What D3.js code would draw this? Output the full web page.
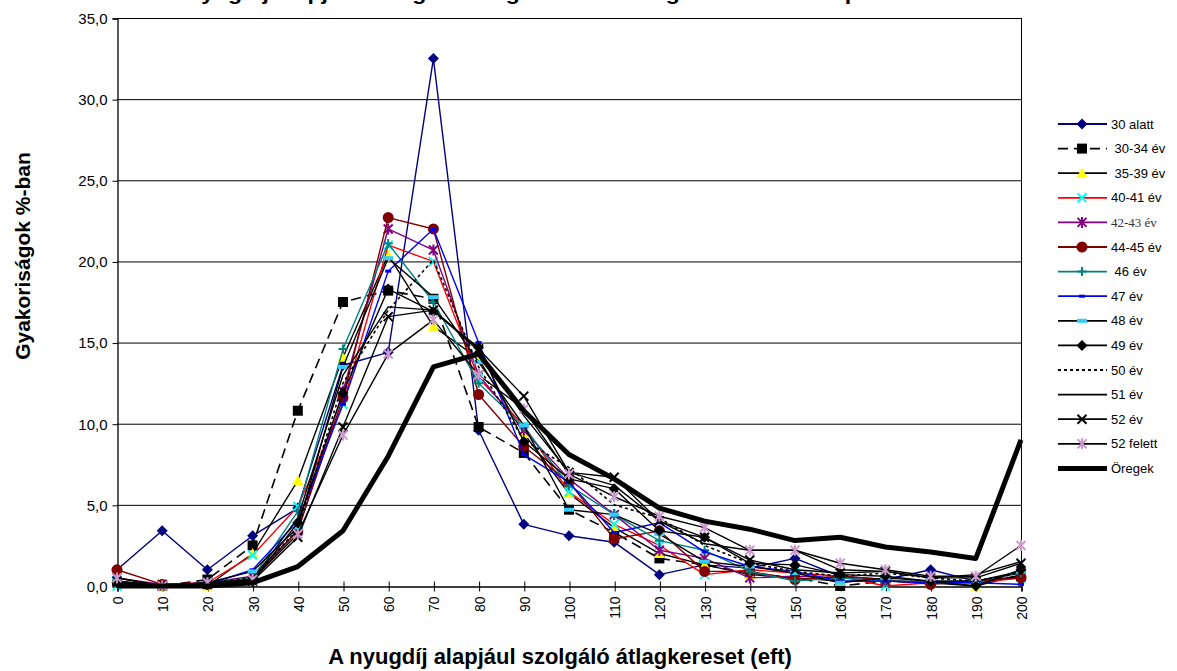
<!DOCTYPE html>
<html><head><meta charset="utf-8">
<script src="https://cdn.jsdelivr.net/npm/d3@7"></script>
<style>
body{margin:0;background:#fff;}
svg{display:block;font-family:Arial,"Liberation Sans",sans-serif;}
</style></head><body>
<svg id="c" width="1177" height="671"></svg>
<script>
// ---------- data ----------
const categories = [0,10,20,30,40,50,60,70,80,90,100,110,120,130,140,150,160,170,180,190,200];
const yTicks = [0,5,10,15,20,25,30,35];
const seriesNames = ["30 alatt"," 30-34 év"," 35-39 év","40-41 év","42-43 év","44-45 év"," 46 év","47 év","48 év","49 év","50 év","51 év","52 év","52 felett","Öregek"];

const v30alatt  = [1.0,3.4,1.0,3.1,4.8,13.6,14.4,32.5,9.6,3.8,3.1,2.7,0.7,1.3,1.1,1.7,0.6,0.4,1.0,0.3,0.6];
const v30_34    = [0.3,0.0,0.4,2.5,10.8,17.5,18.2,17.7,9.8,8.2,4.7,3.3,1.7,1.3,0.8,0.5,0.0,0.3,0.2,0.3,0.6];
const v35_39    = [0.5,0.0,0.0,2.0,6.5,14.1,20.4,16.0,14.0,9.4,5.7,3.6,2.0,1.3,0.7,0.5,0.3,0.3,0.2,0.0,0.7];
const v40_41    = [0.0,0.1,0.2,1.9,4.9,11.2,21.0,20.0,12.8,9.9,5.8,3.8,2.5,0.7,1.0,0.8,0.6,0.0,0.2,0.2,0.5];
const v42_43    = [0.5,0.1,0.2,0.6,3.4,12.0,22.0,20.7,13.0,9.6,6.6,4.4,2.2,1.7,0.5,0.6,0.5,0.3,0.3,0.3,0.8];
const v44_45    = [1.0,0.1,0.1,0.4,3.4,11.6,22.7,22.0,11.8,8.6,6.4,2.9,3.4,0.9,0.9,0.4,0.6,0.4,0.1,0.3,0.5];
const v46       = [0.3,0.0,0.2,0.5,4.6,14.6,21.1,17.5,12.5,9.8,6.2,4.4,2.8,2.2,0.9,0.3,0.5,0.3,0.3,0.3,0.8];
const v47       = [0.2,0.0,0.1,1.0,4.0,11.2,19.4,22.0,15.0,8.1,6.4,3.3,3.9,2.1,1.2,0.9,0.3,0.3,0.2,0.2,0.1];
const v48       = [0.5,0.0,0.2,0.9,3.6,13.5,20.2,17.8,13.8,9.9,4.7,4.4,3.2,1.5,1.2,0.8,0.2,0.5,0.3,0.3,0.9];
const v49       = [0.2,0.0,0.1,0.3,3.9,11.9,18.3,16.9,14.7,8.9,6.6,6.0,3.4,3.0,1.4,1.3,0.7,0.6,0.3,0.0,1.0];
const v50       = [0.3,0.0,0.2,0.5,3.5,12.5,17.0,20.1,13.5,9.0,7.3,5.0,4.2,2.5,1.4,0.9,0.6,0.8,0.5,0.3,0.8];
const v51       = [0.3,0.0,0.1,0.4,4.2,13.0,17.2,17.0,14.5,10.5,7.0,6.2,4.0,2.6,2.2,2.2,1.0,0.9,0.5,0.7,1.5];
const v52       = [0.3,0.0,0.1,0.3,3.0,9.8,16.6,17.0,14.6,11.7,7.0,6.7,4.0,3.0,1.6,1.0,0.8,0.9,0.5,0.5,1.4];
const v52felett = [0.5,0.0,0.2,0.4,3.2,9.3,14.3,16.4,13.0,10.9,6.9,5.5,4.3,3.6,2.2,2.2,1.4,1.0,0.6,0.6,2.5];
const vOregek   = [0.0,0.0,0.0,0.2,1.2,3.4,8.0,13.5,14.3,10.8,8.1,6.6,4.8,4.0,3.5,2.8,3.0,2.4,2.1,1.7,9.0];

const seriesValues = [v30alatt,v30_34,v35_39,v40_41,v42_43,v44_45,v46,v47,v48,v49,v50,v51,v52,v52felett,vOregek];

// ---------- styles ----------
const styles = [
  {line:"#000080", w:1.4, dash:null, marker:"diamond", mfill:"#000080", mstroke:"#000080"},
  {line:"#000000", w:1.6, dash:"10,6", marker:"square", mfill:"#000000", mstroke:"#000000"},
  {line:"#000000", w:1.4, dash:null, marker:"triangle", mfill:"#FFFF00", mstroke:"#FFFF00"},
  {line:"#FF0000", w:1.4, dash:null, marker:"x", mfill:"none", mstroke:"#00FFFF"},
  {line:"#800080", w:1.4, dash:null, marker:"star", mfill:"none", mstroke:"#800080", serif:true},
  {line:"#800000", w:1.4, dash:null, marker:"circle", mfill:"#800000", mstroke:"#800000"},
  {line:"#008080", w:1.4, dash:null, marker:"plus", mfill:"none", mstroke:"#008080"},
  {line:"#0000FF", w:1.4, dash:null, marker:"dash", mfill:"#0000FF", mstroke:"#0000FF"},
  {line:"#000000", w:1.4, dash:null, marker:"dashwide", mfill:"#33CCFF", mstroke:"#33CCFF"},
  {line:"#000000", w:1.4, dash:null, marker:"diamond", mfill:"#000000", mstroke:"#000000"},
  {line:"#000000", w:1.6, dash:"3,3", marker:null},
  {line:"#000000", w:1.4, dash:null, marker:null},
  {line:"#000000", w:1.4, dash:null, marker:"x", mfill:"none", mstroke:"#000000"},
  {line:"#000000", w:1.4, dash:null, marker:"star", mfill:"none", mstroke:"#CC99CC"},
  {line:"#000000", w:5, dash:null, marker:null}
];

const svg = d3.select("#c");
const L=117, R=1021, T=18, B=586;
const x = d3.scaleLinear().domain([0,200]).range([L,R]);
const y = d3.scaleLinear().domain([0,35]).range([B,T]);

// title (mostly clipped at top in reference)
svg.append("text").attr("x",565).attr("y",0).attr("text-anchor","middle")
  .attr("font-weight","bold").attr("font-size",20)
  .attr("textLength",800).attr("lengthAdjust","spacingAndGlyphs")
  .text("A nyugdíj alapjául szolgáló átlagkeresetek megoszlása korcsoportonként");

// gridlines
svg.append("g").selectAll("line").data(yTicks.filter(t=>t>0)).join("line")
  .attr("x1",L).attr("x2",R).attr("y1",d=>y(d)+0.5).attr("y2",d=>y(d)+0.5)
  .attr("stroke","#000").attr("stroke-width",1);
// right border
svg.append("line").attr("x1",R+0.5).attr("x2",R+0.5).attr("y1",T).attr("y2",B).attr("stroke","#000");

// y axis
const yAxis = d3.axisLeft(y).tickValues(yTicks).tickSize(5).tickPadding(5)
  .tickFormat(d=>d3.format(".1f")(d).replace(".",","));
const gy = svg.append("g").attr("transform",`translate(${L+0.5},0.5)`).call(yAxis);
gy.select(".domain").attr("stroke","#000").attr("stroke-width",1.3);
gy.selectAll("text").attr("font-size",15).attr("font-family","Arial, 'Liberation Sans', sans-serif").attr("fill","#000");

// x axis
const xAxis = d3.axisBottom(x).tickValues(categories).tickSize(5).tickFormat(d=>d);
const gx = svg.append("g").attr("transform",`translate(0.5,${B+0.5})`).call(xAxis);
gx.select(".domain").attr("stroke","#000").attr("stroke-width",1.5);
gx.selectAll(".tick line").attr("y1",-5).attr("y2",5);
gx.selectAll("text").attr("font-size",14).attr("font-family","Arial, 'Liberation Sans', sans-serif").attr("fill","#000")
  .attr("transform","rotate(-90)").attr("text-anchor","end").attr("x",-10).attr("y",0).attr("dy","0.35em");

// axis titles
svg.append("text").attr("x",560).attr("y",664).attr("text-anchor","middle")
  .attr("font-weight","bold").attr("font-size",22).text("A nyugdíj alapjául szolgáló átlagkereset (eft)");
svg.append("text").attr("transform","translate(30,256) rotate(-90)").attr("text-anchor","middle")
  .attr("font-weight","bold").attr("font-size",21).text("Gyakoriságok %-ban");

// marker drawing
function drawMarker(g, type, cx, cy, st){
  const s=4.5;
  if(type==="diamond"){
    g.append("path").attr("d",`M${cx},${cy-s-1}L${cx+s+1},${cy}L${cx},${cy+s+1}L${cx-s-1},${cy}Z`).attr("fill",st.mfill);
  } else if(type==="square"){
    g.append("rect").attr("x",cx-s-0.5).attr("y",cy-s-0.5).attr("width",2*s+1).attr("height",2*s+1).attr("fill",st.mfill);
  } else if(type==="triangle"){
    g.append("path").attr("d",`M${cx},${cy-s-1}L${cx+s+1},${cy+s}L${cx-s-1},${cy+s}Z`).attr("fill",st.mfill);
  } else if(type==="circle"){
    g.append("circle").attr("cx",cx).attr("cy",cy).attr("r",s+1).attr("fill",st.mfill);
  } else if(type==="x"){
    g.append("path").attr("d",`M${cx-s},${cy-s}L${cx+s},${cy+s}M${cx-s},${cy+s}L${cx+s},${cy-s}`).attr("stroke",st.mstroke).attr("stroke-width",2).attr("fill","none");
  } else if(type==="star"){
    g.append("path").attr("d",`M${cx-s},${cy-s}L${cx+s},${cy+s}M${cx-s},${cy+s}L${cx+s},${cy-s}M${cx},${cy-s-1}L${cx},${cy+s+1}`).attr("stroke",st.mstroke).attr("stroke-width",2).attr("fill","none");
  } else if(type==="plus"){
    g.append("path").attr("d",`M${cx-s},${cy}L${cx+s},${cy}M${cx},${cy-s}L${cx},${cy+s}`).attr("stroke",st.mstroke).attr("stroke-width",2).attr("fill","none");
  } else if(type==="dash"){
    g.append("rect").attr("x",cx-3).attr("y",cy-1.5).attr("width",6).attr("height",3).attr("fill",st.mfill);
  } else if(type==="dashwide"){
    g.append("rect").attr("x",cx-5).attr("y",cy-2).attr("width",10).attr("height",4).attr("fill",st.mfill);
  }
}

// series
const lineGen = d3.line().x((d,i)=>x(categories[i])).y(d=>y(d));
const plot = svg.append("g");
seriesValues.forEach((vals,si)=>{
  const st = styles[si];
  const g = plot.append("g");
  g.append("path").datum(vals).attr("d",lineGen).attr("fill","none")
    .attr("stroke",st.line).attr("stroke-width",st.w).attr("stroke-linejoin","round")
    .attr("stroke-dasharray",st.dash);
  if(st.marker){
    vals.forEach((v,i)=>drawMarker(g, st.marker, x(categories[i]), y(v), st));
  }
});

// legend
const lg = svg.append("g");
seriesNames.forEach((name,i)=>{
  const st = styles[i];
  const yy = 124 + i*24.6;
  lg.append("line").attr("x1",1058).attr("x2",1107).attr("y1",yy).attr("y2",yy)
    .attr("stroke",st.line).attr("stroke-width",Math.max(st.w,1.8)).attr("stroke-dasharray",st.dash);
  if(st.marker) drawMarker(lg, st.marker, 1082, yy, st);
  const t = lg.append("text").attr("x",1111).attr("y",yy).attr("dy","0.35em").attr("font-size",13).attr("xml:space","preserve").text(name);
  if(st.serif) t.attr("font-family","'Liberation Serif','Times New Roman',serif").attr("fill","#333");
});
</script></body></html>
